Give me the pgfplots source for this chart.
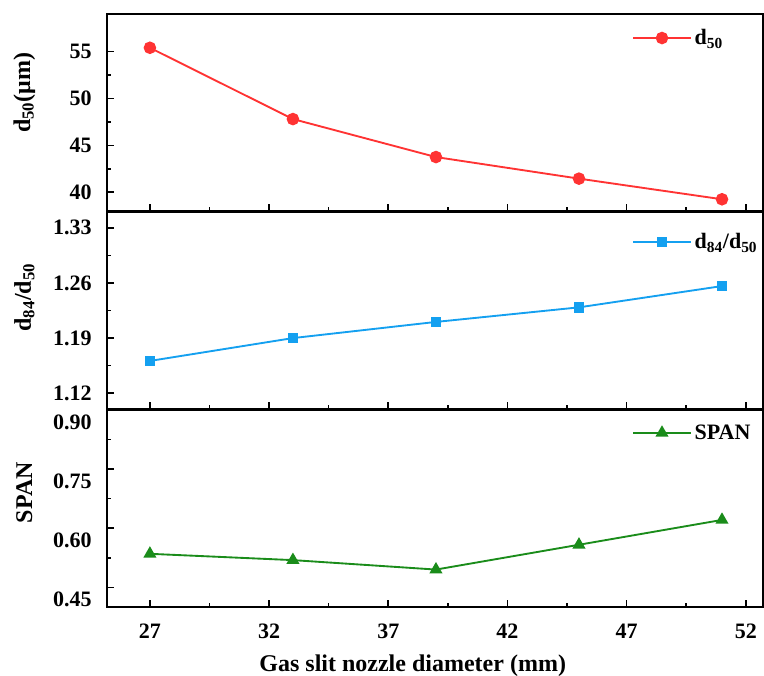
\documentclass[border=0pt]{standalone}
\usepackage{fontspec}
\setmainfont{Liberation Serif}
\usepackage{pgfplots}
\pgfplotsset{compat=1.18}

\definecolor{cRed}{RGB}{255,51,51}
\definecolor{cBlue}{RGB}{20,160,240}
\definecolor{cGreen}{RGB}{26,140,26}

\pgfplotsset{
  panel/.style={
    scale only axis, width=492pt, height=147.75pt,
    xmin=25.2, xmax=52.72,
    xtick={27,32,37,42,47,52},
    minor x tick num=1, minor y tick num=1,
    xtick pos=bottom, ytick pos=left,
    tick align=inside,
    major tick length=5.5pt, minor tick length=3pt,
    axis line style={line width=1.6pt},
    every tick/.style={black, line width=1.2pt},
    /pgf/number format/assume math mode=true,
    tick label style={font=\fontsize{16.5}{18}\selectfont\bfseries},
    label style={font=\fontsize{18}{20}\selectfont\bfseries},
    yticklabel style={xshift=-8pt},
    xticklabel style={yshift=-9pt},
    ylabel style={anchor=center, yshift=62pt},
    legend style={draw=none, fill=none, inner sep=0pt, anchor=west,
      font=\fontsize{16.5}{18}\selectfont\bfseries},
    legend cell align=left,
    legend image code/.code={\draw[mark repeat=2,mark phase=2,##1]
      plot coordinates {(0pt,0pt) (21.75pt,0pt) (43.5pt,0pt)};},
  },
}

\begin{document}
\begin{tikzpicture}
\useasboundingbox (-80.25pt,-51pt) rectangle (492.75pt,455.25pt);

% top panel: d50
\begin{axis}[panel, at={(0pt,297pt)},
    ymin=38, ymax=59, ytick={40,45,50,55},
    xticklabels={},
    ylabel={d\textsubscript{50}(μm)},
    ylabel style={at={(axis description cs:0,0.60)}},
    legend style={at={(rel axis cs:0.800,0.878)}},
]
\addplot[cRed, line width=1.4pt, mark=*, mark size=4pt]
  coordinates {(27,55.4) (33,47.8) (39,43.75) (45,41.45) (51,39.25)};
\addlegendentry{d\textsubscript{50}}
\end{axis}

% middle panel: d84/d50
\begin{axis}[panel, at={(0pt,148.5pt)},
    ymin=1.10, ymax=1.35, ytick={1.12,1.19,1.26,1.33},
    yticklabel style={/pgf/number format/.cd, fixed, fixed zerofill, precision=2},
    xticklabels={},
    ylabel={d\textsubscript{84}/d\textsubscript{50}},
    ylabel style={at={(axis description cs:0,0.566)}},
    legend style={at={(rel axis cs:0.800,0.848)}},
]
\addplot[cBlue, line width=1.4pt, mark=square*, mark size=3.3pt]
  coordinates {(27,1.161) (33,1.190) (39,1.2105) (45,1.229) (51,1.256)};
\addlegendentry{d\textsubscript{84}/d\textsubscript{50}}
\end{axis}

% bottom panel: SPAN
\begin{axis}[panel, at={(0pt,0pt)},
    ymin=0.40, ymax=0.90, ytick={0.45,0.60,0.75,0.90},
    yticklabel style={yshift=-9pt, /pgf/number format/.cd, fixed, fixed zerofill, precision=2},
    xlabel={Gas slit nozzle diameter (mm)},
    xlabel style={at={(axis description cs:0.466,0)}, anchor=center, yshift=-44pt},
    ylabel={SPAN},
    ylabel style={at={(axis description cs:0,0.58)}},
    legend style={at={(rel axis cs:0.800,0.884)}},
]
\addplot[cGreen, line width=1.4pt, mark=triangle*, mark size=4.3pt]
  coordinates {(27,0.535) (33,0.519) (39,0.495) (45,0.558) (51,0.621)};
\addlegendentry{SPAN}
\end{axis}
\end{tikzpicture}
\end{document}
